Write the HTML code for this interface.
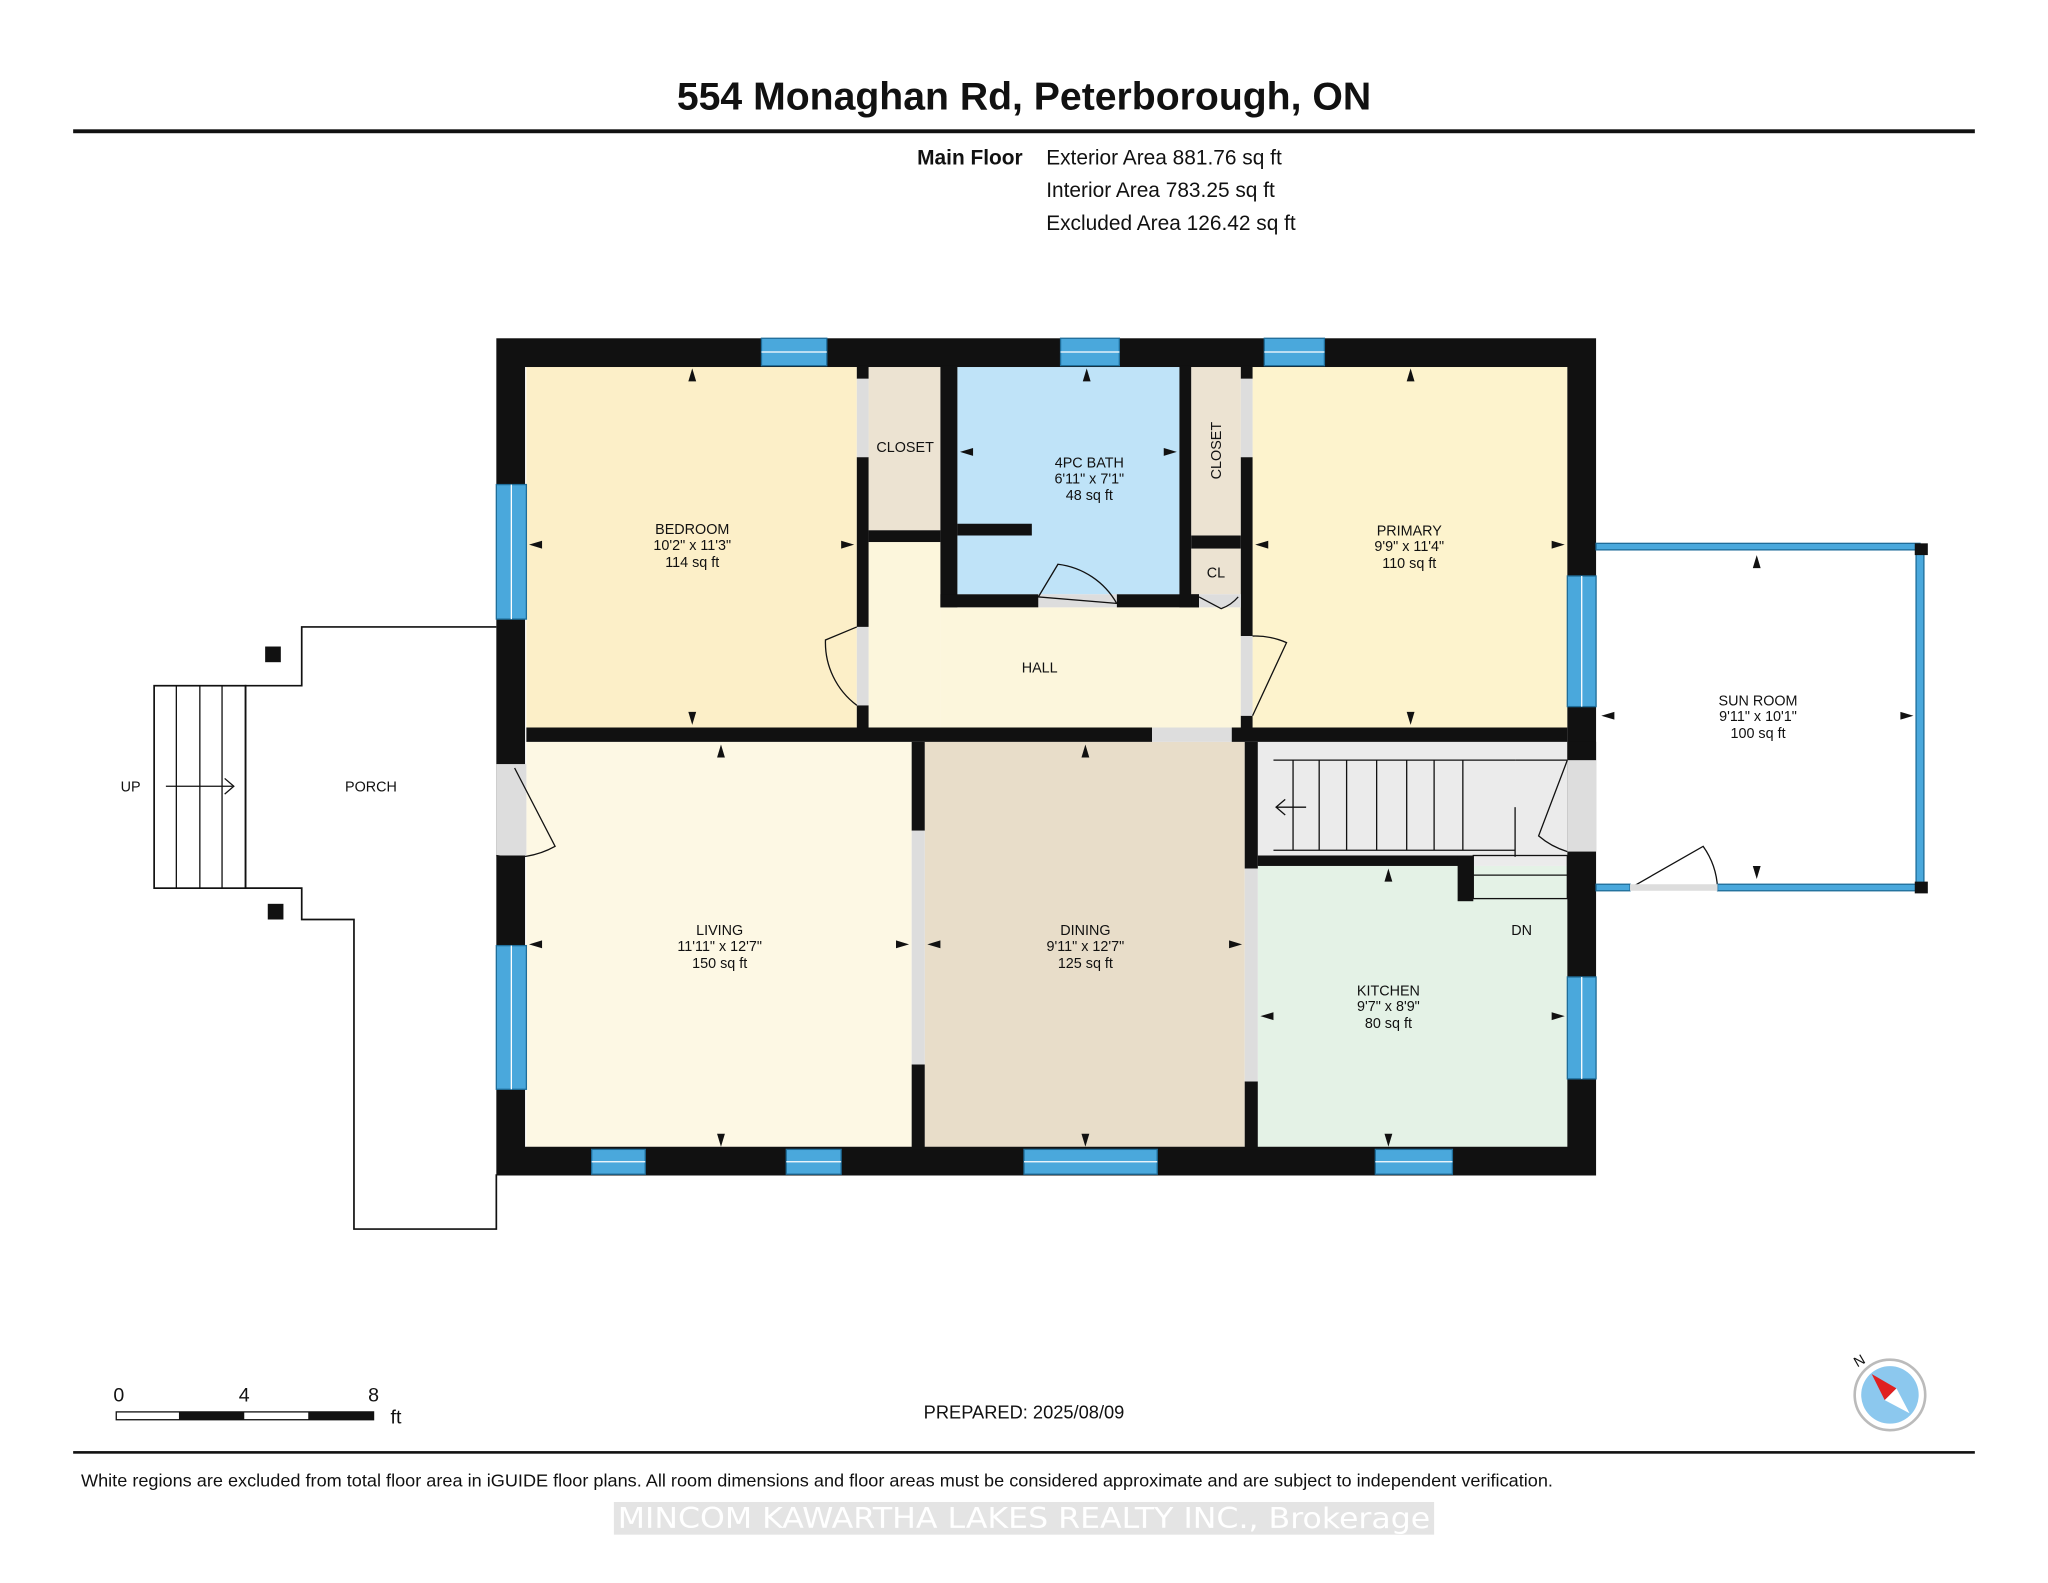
<!DOCTYPE html>
<html><head><meta charset="utf-8"><style>
html,body{margin:0;padding:0;background:#fff}
svg{display:block}
text{font-family:"Liberation Sans",Arial,sans-serif;fill:#111}
.r{font-size:11px;text-anchor:middle}
.a{fill:#111}
</style></head><body>
<svg width="2048" height="1583" viewBox="0 0 1568 1212" xmlns="http://www.w3.org/2000/svg">
<rect width="1568" height="1212" fill="#fff"/>
<text x="784" y="84" font-size="30" font-weight="bold" text-anchor="middle">554 Monaghan Rd, Peterborough, ON</text>
<rect x="56" y="99" width="1456" height="3" fill="#111"/>
<text x="783" y="126" font-size="16" font-weight="bold" text-anchor="end">Main Floor</text>
<text x="801" y="126" font-size="16">Exterior Area 881.76 sq ft</text>
<text x="801" y="151" font-size="16">Interior Area 783.25 sq ft</text>
<text x="801" y="176" font-size="16">Excluded Area 126.42 sq ft</text>

<!-- porch -->
<polyline points="380,480 231,480 231,525 188,525 188,680 231,680 231,704 271,704 271,941 380,941 380,899" fill="none" stroke="#111" stroke-width="1.3"/>
<rect x="118" y="525" width="70" height="155" fill="none" stroke="#111" stroke-width="1.3"/>
<line x1="135" y1="525" x2="135" y2="680" stroke="#111"/><line x1="153" y1="525" x2="153" y2="680" stroke="#111"/><line x1="170" y1="525" x2="170" y2="680" stroke="#111"/>
<line x1="127" y1="602" x2="178" y2="602" stroke="#111"/><polyline points="172,596 179,602 172,608" fill="none" stroke="#111"/>
<rect x="203" y="495" width="12" height="12" fill="#111"/><rect x="205" y="692" width="12" height="12" fill="#111"/>
<text x="100" y="606" font-size="11" text-anchor="middle">UP</text>
<text x="284" y="606" font-size="11" text-anchor="middle">PORCH</text>

<!-- rooms -->
<rect x="391" y="270" width="820" height="619" fill="#fff"/>
<rect x="403" y="280" width="253" height="277" fill="#fcefc8"/>
<rect x="665" y="280" width="55" height="126" fill="#ece3d2"/>
<rect x="733" y="280" width="170" height="175" fill="#bfe3f8"/>
<rect x="912" y="280" width="38" height="130" fill="#ece3d2"/>
<rect x="912" y="420" width="38" height="35" fill="#ece3d2"/>
<rect x="959" y="280" width="241" height="277" fill="#fdf3cd"/>
<rect x="665" y="415" width="55" height="142" fill="#fcf6dc"/>
<rect x="720" y="465" width="230" height="92" fill="#fcf6dc"/>
<rect x="403" y="568" width="295" height="312" fill="#fdf8e4"/>
<rect x="708" y="568" width="245" height="312" fill="#e8ddc9"/>
<rect x="963" y="568" width="237" height="95" fill="#ebebeb"/>
<rect x="963" y="663" width="237" height="217" fill="#e4f2e6"/>

<!-- stairs -->
<g stroke="#111" stroke-width="1" fill="none">
<line x1="975" y1="582" x2="1160" y2="582"/><line x1="975" y1="651" x2="1160" y2="651"/>
<line x1="990" y1="582" x2="990" y2="651"/><line x1="1010" y1="582" x2="1010" y2="651"/><line x1="1031" y1="582" x2="1031" y2="651"/><line x1="1054" y1="582" x2="1054" y2="651"/><line x1="1077" y1="582" x2="1077" y2="651"/><line x1="1098" y1="582" x2="1098" y2="651"/><line x1="1120" y1="582" x2="1120" y2="651"/>
<polyline points="1160,582 1200,582"/><line x1="1160" y1="618" x2="1160" y2="656"/>
<rect x="1128" y="655" width="72" height="33"/><line x1="1128" y1="670" x2="1200" y2="670"/>
<polyline points="984,612 977,618 984,624"/><line x1="977" y1="618" x2="1000" y2="618"/>
</g>

<!-- walls -->
<rect x="391" y="270" width="820" height="619" fill="none" stroke="#111" stroke-width="22"/>
<g fill="#111">
<rect x="403" y="557" width="479" height="11"/><rect x="943" y="557" width="257" height="11"/>
<rect x="698" y="568" width="10" height="68"/><rect x="698" y="815" width="10" height="65"/>
<rect x="953" y="568" width="10" height="97"/><rect x="953" y="828" width="10" height="52"/>
<rect x="963" y="655" width="157" height="8"/><rect x="1116" y="655" width="12" height="35"/>
<rect x="656" y="280" width="9" height="10"/><rect x="656" y="350" width="9" height="130"/><rect x="656" y="540" width="9" height="17"/>
<rect x="720" y="280" width="13" height="185"/><rect x="720" y="455" width="75" height="10"/><rect x="855" y="455" width="63" height="10"/>
<rect x="665" y="406" width="55" height="9"/><rect x="733" y="401" width="57" height="9"/>
<rect x="903" y="280" width="9" height="185"/><rect x="912" y="410" width="38" height="10"/><rect x="912" y="455" width="6" height="10"/>
<rect x="950" y="280" width="9" height="10"/><rect x="950" y="350" width="9" height="137"/><rect x="950" y="548" width="9" height="9"/>
<rect x="1200" y="568" width="22" height="14"/>
</g>
<g fill="#ddd">
<rect x="882" y="557" width="61" height="11"/><rect x="698" y="636" width="10" height="179"/><rect x="953" y="665" width="10" height="163"/>
<rect x="656" y="290" width="9" height="60"/><rect x="950" y="290" width="9" height="60"/>
<rect x="380" y="585" width="23" height="70"/><rect x="1200" y="582" width="22" height="70"/>
<rect x="795" y="455" width="60" height="10"/><rect x="918" y="455" width="32" height="10"/>
<rect x="656" y="480" width="9" height="60"/><rect x="950" y="487" width="9" height="61"/>
</g>
<!-- doors -->
<g fill="none" stroke="#111" stroke-width="1">
<path d="M656,480 L632,490 A60,60 0 0 0 656,540"/>
<path d="M959,548 L985,492 A60,60 0 0 0 959,487"/>
<path d="M795,457 L810,432 A60,60 0 0 1 855,462 Z"/>
<path d="M918,457 L935,466 A30,30 0 0 0 948,457"/>
<path d="M394,588 L425,648 A65,65 0 0 1 380,655"/>
<path d="M1200,582 L1178,640 A60,60 0 0 0 1200,652"/>
<path d="M1248,680 L1304,648 A60,60 0 0 1 1315,680"/>
</g>

<!-- windows -->
<g fill="#4aa8dc" stroke="#1f6d99" stroke-width="1">
<rect x="583" y="259" width="50" height="21"/><rect x="812" y="259" width="45" height="21"/><rect x="968" y="259" width="46" height="21"/>
<rect x="380" y="371" width="23" height="103"/><rect x="380" y="724" width="23" height="110"/>
<rect x="453" y="880" width="41" height="19"/><rect x="602" y="880" width="42" height="19"/><rect x="784" y="880" width="102" height="19"/><rect x="1053" y="880" width="59" height="19"/>
<rect x="1200" y="441" width="22" height="100"/><rect x="1200" y="748" width="22" height="78"/>
</g>
<g stroke="#fff" stroke-width="1"><line x1="583" y1="269.5" x2="633" y2="269.5"/><line x1="812" y1="269.5" x2="857" y2="269.5"/><line x1="968" y1="269.5" x2="1014" y2="269.5"/><line x1="391.5" y1="371" x2="391.5" y2="474"/><line x1="391.5" y1="724" x2="391.5" y2="834"/><line x1="453" y1="889.5" x2="494" y2="889.5"/><line x1="602" y1="889.5" x2="644" y2="889.5"/><line x1="784" y1="889.5" x2="886" y2="889.5"/><line x1="1053" y1="889.5" x2="1112" y2="889.5"/><line x1="1211" y1="441" x2="1211" y2="541"/><line x1="1211" y1="748" x2="1211" y2="826"/></g>

<!-- sun room -->
<g fill="#4aa8dc" stroke="#1f6d99" stroke-width="1">
<rect x="1222" y="416" width="248" height="5"/><rect x="1467" y="421" width="6" height="258"/>
<rect x="1222" y="677" width="26" height="5"/><rect x="1315" y="677" width="152" height="5"/>
</g>
<rect x="1248" y="677" width="67" height="5" fill="#ddd"/>
<rect x="1466" y="416" width="10" height="9" fill="#111"/><rect x="1466" y="675" width="10" height="9" fill="#111"/>

<!-- labels -->
<text class="r" x="530" y="409">BEDROOM</text><text class="r" x="530" y="421">10'2" x 11'3"</text><text class="r" x="530" y="434">114 sq ft</text>
<text class="r" x="693" y="346">CLOSET</text>
<text class="r" x="834" y="358">4PC BATH</text><text class="r" x="834" y="370">6'11" x 7'1"</text><text class="r" x="834" y="383">48 sq ft</text>
<text class="r" transform="translate(935,345) rotate(-90)">CLOSET</text>
<text class="r" x="931" y="442">CL</text>
<text class="r" x="1079" y="410">PRIMARY</text><text class="r" x="1079" y="422">9'9" x 11'4"</text><text class="r" x="1079" y="435">110 sq ft</text>
<text class="r" x="796" y="515">HALL</text>
<text class="r" x="1346" y="540">SUN ROOM</text><text class="r" x="1346" y="552">9'11" x 10'1"</text><text class="r" x="1346" y="565">100 sq ft</text>
<text class="r" x="551" y="716">LIVING</text><text class="r" x="551" y="728">11'11" x 12'7"</text><text class="r" x="551" y="741">150 sq ft</text>
<text class="r" x="831" y="716">DINING</text><text class="r" x="831" y="728">9'11" x 12'7"</text><text class="r" x="831" y="741">125 sq ft</text>
<text class="r" x="1063" y="762">KITCHEN</text><text class="r" x="1063" y="774">9'7" x 8'9"</text><text class="r" x="1063" y="787">80 sq ft</text>
<text class="r" x="1165" y="716">DN</text>

<!-- dimension arrows -->
<g class="a">
<path d="M530,282 l-3,10 h6z"/><path d="M530,555 l-3,-10 h6z"/><path d="M405,417 l10,-3 v6z"/><path d="M654,417 l-10,-3 v6z"/>
<path d="M832,282 l-3,10 h6z"/><path d="M735,346 l10,-3 v6z"/><path d="M901,346 l-10,-3 v6z"/>
<path d="M1080,282 l-3,10 h6z"/><path d="M1080,555 l-3,-10 h6z"/><path d="M961,417 l10,-3 v6z"/><path d="M1198,417 l-10,-3 v6z"/>
<path d="M1345,425 l-3,10 h6z"/><path d="M1345,673 l-3,-10 h6z"/><path d="M1226,548 l10,-3 v6z"/><path d="M1465,548 l-10,-3 v6z"/>
<path d="M552,570 l-3,10 h6z"/><path d="M552,878 l-3,-10 h6z"/><path d="M405,723 l10,-3 v6z"/><path d="M696,723 l-10,-3 v6z"/>
<path d="M831,570 l-3,10 h6z"/><path d="M831,878 l-3,-10 h6z"/><path d="M710,723 l10,-3 v6z"/><path d="M951,723 l-10,-3 v6z"/>
<path d="M1063,665 l-3,10 h6z"/><path d="M1063,878 l-3,-10 h6z"/><path d="M965,778 l10,-3 v6z"/><path d="M1198,778 l-10,-3 v6z"/>
</g>

<!-- scale bar -->
<text x="91" y="1073" font-size="15" text-anchor="middle">0</text><text x="187" y="1073" font-size="15" text-anchor="middle">4</text><text x="286" y="1073" font-size="15" text-anchor="middle">8</text><text x="299" y="1090" font-size="15">ft</text>
<rect x="89" y="1081" width="197" height="6" fill="#fff" stroke="#111"/><rect x="137" y="1081" width="50" height="6" fill="#111"/><rect x="236" y="1081" width="50" height="6" fill="#111"/>
<text x="784" y="1086" font-size="14" text-anchor="middle">PREPARED: 2025/08/09</text>
<!-- compass -->
<circle cx="1447" cy="1068" r="27" fill="#fff" stroke="#bbb" stroke-width="2"/>
<circle cx="1447" cy="1068" r="22" fill="#8cc8ee"/>
<path d="M1433,1052 L1452,1063 L1443,1072 Z" fill="#e02020"/><path d="M1443,1072 L1452,1063 L1462,1082 Z" fill="#fff"/>
<text x="1422" y="1047" font-size="11" transform="rotate(-30 1422 1047)">N</text>
<rect x="56" y="1111" width="1456" height="2" fill="#111"/>
<text x="62" y="1138" font-size="13.5" textLength="1127" lengthAdjust="spacingAndGlyphs">White regions are excluded from total floor area in iGUIDE floor plans. All room dimensions and floor areas must be considered approximate and are subject to independent verification.</text>
<rect x="470" y="1150" width="628" height="25" fill="#e4e4e4"/>
<text x="473" y="1170" font-size="22" textLength="622" lengthAdjust="spacingAndGlyphs" style="fill:#ffffff;font-family:'DejaVu Sans',sans-serif">MINCOM KAWARTHA LAKES REALTY INC., Brokerage</text>
</svg>
</body></html>
